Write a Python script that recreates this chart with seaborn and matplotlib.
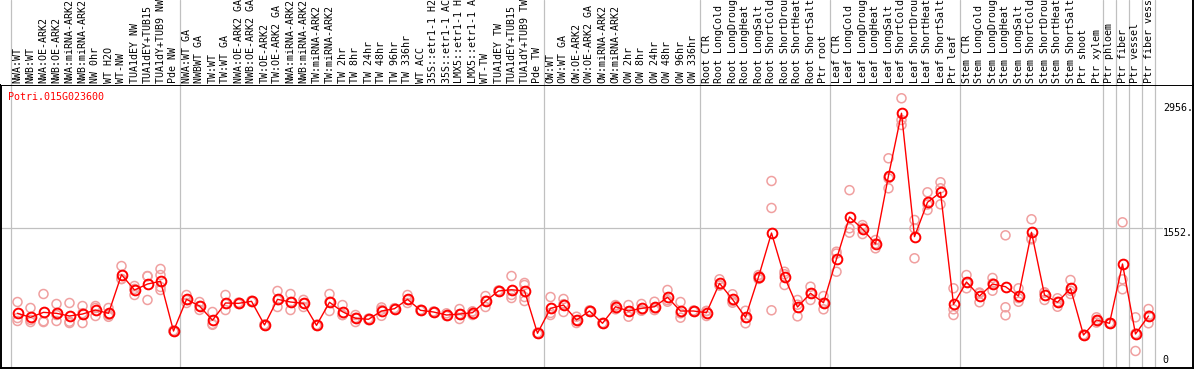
import matplotlib
matplotlib.use("Agg")
import matplotlib.pyplot as plt
import numpy as np
import pandas as pd
import seaborn as sns

GENE = "Potri.015G023600"

grp_nw = ["NWA:WT", "NWB:WT", "NWA:OE-ARK2", "NWB:OE-ARK2", "NWA:miRNA-ARK2",
          "NWB:miRNA-ARK2", "NW 0hr", "WT H2O", "WT-NW", "TUA1dEY NW",
          "TUA1dEY+TUB15", "TUA1dY+TUB9 NW", "Pde NW"]
grp_tw = ["NWA:WT GA", "NWBWT GA", "TW:WT", "TW:WT GA", "NWA:OE-ARK2 GA",
          "NWB:OE-ARK2 GA", "TW:OE-ARK2", "TW:OE-ARK2 GA", "NWA:miRNA-ARK2",
          "NWB:miRNA-ARK2", "TW:miRNA-ARK2", "TW:miRNA-ARK2", "TW 2hr", "TW 8hr",
          "TW 24hr", "TW 48hr", "TW 96hr", "TW 336hr", "WT ACC", "35S::etr1-1 H2",
          "35S::etr1-1 AC", "LMX5::etr1-1 H", "LMX5::etr1-1 A", "WT-TW",
          "TUA1dEY TW", "TUA1dEY+TUB15", "TUA1dY+TUB9 TW", "Pde TW"]
grp_ow = ["OW:WT", "OW:WT GA", "OW:OE-ARK2", "OW:OE-ARK2 GA", "OW:miRNA-ARK2",
          "OW:miRNA-ARK2", "OW 2hr", "OW 8hr", "OW 24hr", "OW 48hr", "OW 96hr",
          "OW 336hr"]
stress = ["CTR", "LongCold", "LongDroug", "LongHeat", "LongSalt",
          "ShortCold", "ShortDrou", "ShortHeat", "ShortSalt"]
grp_root = ["Root " + s for s in stress] + ["Ptr root"]
grp_leaf = ["Leaf " + s for s in stress] + ["Ptr leaf"]
grp_stem = ["Stem " + s for s in stress] + ["Ptr shoot", "Ptr xylem"]
grp_ptr = ["Ptr phloem", "Ptr fiber", "Ptr vessel", "Ptr fiber vess"]

groups = [grp_nw, grp_tw, grp_ow, grp_root, grp_leaf, grp_stem,
          grp_ptr[:1], grp_ptr[1:2], grp_ptr[2:3], grp_ptr[3:]]
labels = [s for g in groups for s in g]

means = [594, 549, 605, 594, 564, 586, 631, 594, 1028, 856, 923, 954, 395,
         751, 676, 516, 710, 706, 729, 463, 751, 721, 706, 459, 718, 612, 538,
         527, 620, 646, 751, 628, 609, 575, 586, 601, 729, 845, 859, 845, 370,
         650, 687, 519, 620, 482, 668, 620, 650, 668, 774, 620, 620,
         601, 931, 751, 549, 1002, 1496, 1002, 665, 819, 713,
         1204, 1676, 1541, 1373, 2140, 2841, 1455, 1841, 1953, 695,
         946, 788, 923, 893, 788, 1504, 800, 718, 875, 350, 519,
         482, 1148, 362, 564]

reps = [[721, 541, 508], [654, 520, 496], [811, 505, 496], [699, 575, 508],
        [710, 500, 485], [676, 595, 485], [676, 654, 564], [654, 575, 555],
        [1125, 980, 979], [901, 868, 800], [1013, 1010, 744], [1092, 1024, 890, 856],
        [400, 395, 390],
        [800, 743, 710], [721, 676, 632], [609, 474, 465], [800, 700, 631],
        [715, 706, 698], [735, 729, 722], [470, 463, 456], [845, 743, 665],
        [811, 721, 631], [745, 706, 665], [465, 459, 453], [811, 723, 620],
        [687, 575, 575], [575, 543, 496], [535, 527, 519], [660, 634, 566],
        [652, 646, 640], [800, 743, 710], [634, 628, 622], [615, 609, 603],
        [594, 567, 564], [642, 586, 530], [616, 612, 575], [788, 734, 665],
        [851, 845, 839], [1013, 800, 766], [935, 912, 777, 732], [375, 370, 365],
        [777, 598, 575], [755, 697, 609], [556, 516, 485], [628, 620, 612],
        [487, 482, 477], [687, 678, 639], [687, 617, 556], [699, 628, 623],
        [724, 650, 630], [856, 742, 724], [721, 594, 545], [626, 620, 614],
        [620, 620, 564], [976, 912, 905], [808, 732, 713], [623, 542, 482],
        [1024, 1002, 980], [2080, 1777, 628], [1061, 1033, 912], [744, 691, 560],
        [893, 820, 744], [788, 712, 639],
        [1286, 1265, 1061], [1977, 1549, 1500], [1585, 1555, 1484], [1417, 1378, 1324],
        [2335, 2110, 1998], [3009, 2765, 2709], [1642, 1549, 1212], [1953, 1816, 1754],
        [2066, 1998, 1818], [875, 639, 575],
        [1024, 940, 875], [827, 819, 718], [991, 930, 848], [1470, 662, 572],
        [875, 765, 724], [1650, 1437, 1425], [830, 826, 744], [763, 723, 668],
        [968, 846, 811], [355, 350, 345], [549, 519, 490],
        [487, 482, 477], [1616, 976, 864], [549, 366, 171], [642, 568, 482]]

ytick_vals = [0, 1552, 2956]
ytick_text = ["0", "1552.", "2956."]

W, H = 1194, 370
sns.set_style("white")
plt.rcParams["font.family"] = ["DejaVu Sans Mono"]

fig = plt.figure(figsize=(W / 100, H / 100), dpi=100)
ax = fig.add_axes([1 / W, 2 / H, 1192 / W, 283 / H])
top = fig.add_axes([1 / W, 285 / H, 1192 / W, 85 / H])

n = len(labels)
x = np.arange(n)
xlim = ((1 - 17.5) / 13, (1193 - 17.5) / 13)

rep_df = pd.DataFrame({"x": [i for i, r in enumerate(reps) for _ in r],
                       "value": [v for r in reps for v in r]})
mean_df = pd.DataFrame({"x": x, "value": means})

# group separators
bounds = np.cumsum([0] + [len(g) for g in groups]) - 0.5
for b in bounds:
    for a in (ax, top):
        a.axvline(b, color="#c0c0c0", lw=0.9, zorder=0)
ax.plot([xlim[0], 88.0], [1552, 1552], color="#c0c0c0", lw=0.9, zorder=0)

sns.scatterplot(data=rep_df, x="x", y="value", ax=ax, marker="o", s=42,
                facecolors="none", edgecolor="#f0a0a0", linewidth=1.1, zorder=2)
sns.lineplot(data=mean_df, x="x", y="value", ax=ax, color="#ff0000", lw=1.0,
             marker="o", markersize=7, markerfacecolor="none",
             markeredgecolor="#ff0000", markeredgewidth=1.4, zorder=3)

ax.set_xlim(*xlim)
ax.set_ylim(-20, 3158)
ax.set_xticks([])
ax.set_yticks([])
ax.set_xlabel("")
ax.set_ylabel("")
for sp in ax.spines.values():
    sp.set_visible(True)
    sp.set_color("black")
    sp.set_linewidth(1.4)

for v, t in zip(ytick_vals, ytick_text):
    if v == 0:
        ax.text(88.1, 10, t, ha="left", va="bottom", fontsize=7.2, color="black")
    else:
        ax.text(88.1, v, t, ha="left", va="top", fontsize=7.2, color="black")
ax.text(0.006, 0.958, GENE, transform=ax.transAxes, ha="left", va="center",
        fontsize=7.2, color="#ff0000")

top.set_xlim(*xlim)
top.set_ylim(0, 85)
top.set_xticks([])
top.set_yticks([])
for k, sp in top.spines.items():
    sp.set_visible(k == "right")
    sp.set_color("black")
    sp.set_linewidth(1.4)
for i, lab in enumerate(labels):
    top.text(i, 2, lab, rotation=90, ha="center", va="bottom", fontsize=7.2,
             color="black", clip_on=True)

fig.savefig("out.png", dpi=100)
